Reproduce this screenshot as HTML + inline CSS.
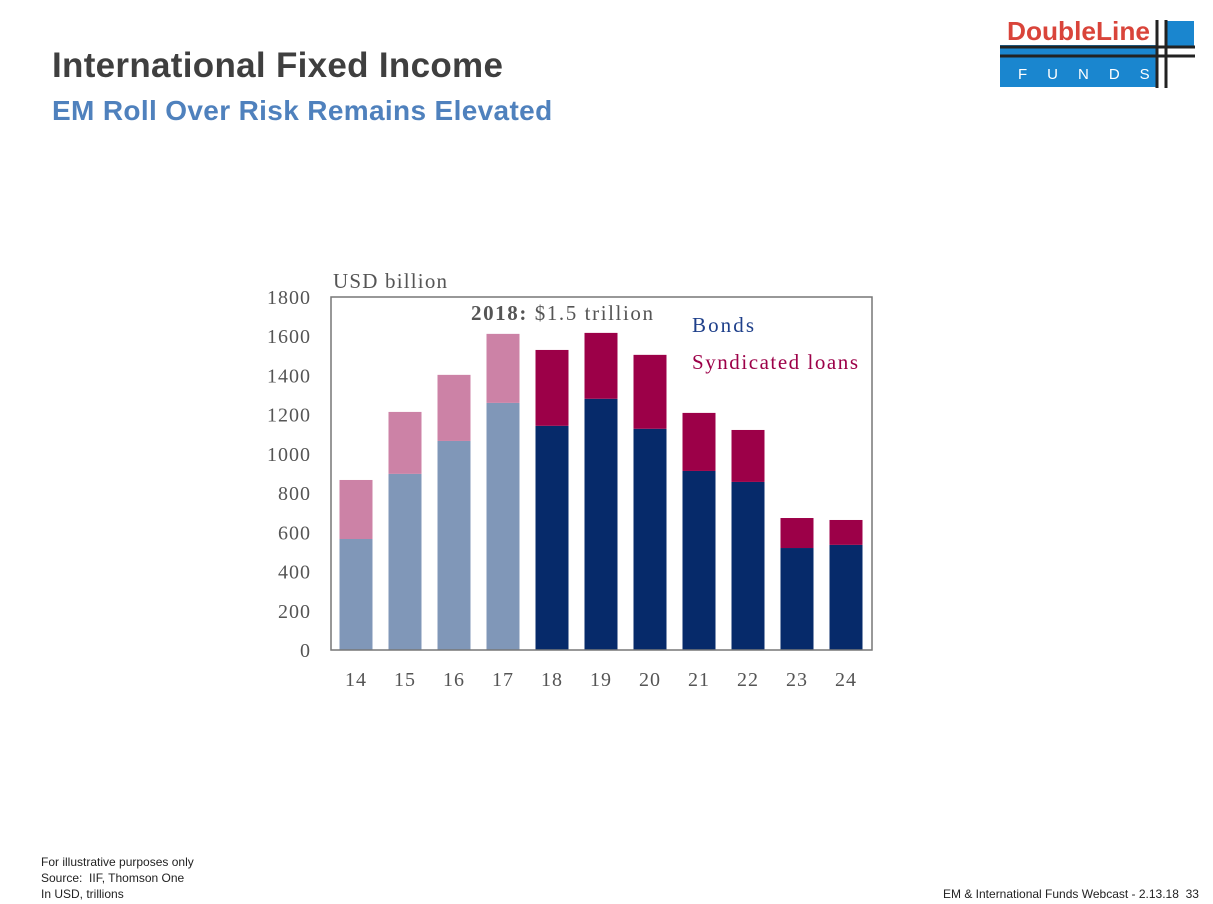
<!DOCTYPE html>
<html><head><meta charset="utf-8"><style>
body{margin:0;width:1213px;height:904px;background:#fff;position:relative;overflow:hidden;font-family:"Liberation Sans",sans-serif}
.t1{position:absolute;left:52px;top:46px;font-size:35px;font-weight:bold;color:#3f3f3f;letter-spacing:0.3px}
.t2{position:absolute;left:52px;top:95px;font-size:28px;font-weight:bold;color:#4f81bd;letter-spacing:0.35px}
.foot{position:absolute;font-size:12px;color:#222;line-height:16px}
</style></head><body>
<div class="t1">International Fixed Income</div>
<div class="t2">EM Roll Over Risk Remains Elevated</div>
<svg style="position:absolute;left:990px;top:10px" width="215" height="85">
<rect x="10" y="35" width="157" height="42" fill="#1a86cf"/>
<rect x="175" y="11" width="29" height="25" fill="#1a86cf"/>
<line x1="10" y1="37" x2="205" y2="37" stroke="#222" stroke-width="3"/>
<line x1="10" y1="46" x2="205" y2="46" stroke="#222" stroke-width="3"/>
<line x1="167" y1="10" x2="167" y2="78" stroke="#222" stroke-width="3"/>
<line x1="176" y1="10" x2="176" y2="78" stroke="#222" stroke-width="3"/>
<text x="17" y="30" font-size="26" font-weight="bold" fill="#d9443a" font-family="Liberation Sans" textLength="143" lengthAdjust="spacingAndGlyphs">DoubleLine</text>
<text x="28" y="69" font-size="15" fill="#fff" font-family="Liberation Sans" letter-spacing="20">FUNDS</text>
</svg>
<svg id="chart" style="position:absolute;left:0;top:0" width="1213" height="904"></svg>
<div class="foot" style="left:41px;top:854px">For illustrative purposes only<br>Source:&nbsp; IIF, Thomson One<br>In USD, trillions</div>
<div class="foot" style="left:943px;top:886px">EM &amp; International Funds Webcast - 2.13.18&nbsp; 33</div>
<script>
const categories=["14","15","16","17","18","19","20","21","22","23","24"];
const bonds=[566,898,1066,1260,1143,1281,1128,913,857,520,536];
const loans=[301,316,337,352,387,336,377,296,265,153,127];
const yTicks=[0,200,400,600,800,1000,1200,1400,1600,1800];
const svg=document.getElementById('chart');
const NS='http://www.w3.org/2000/svg';
const X0=331,X1=872,Y0=650,Y1=297,YMAX=1800;
const y=v=>Y0-(v/YMAX)*(Y0-Y1);
const xc=i=>356+i*49;
function mk(tag,attrs,txt){const e=document.createElementNS(NS,tag);for(const k in attrs)e.setAttribute(k,attrs[k]);if(txt!=null)e.textContent=txt;svg.appendChild(e);return e;}
const serif='Liberation Serif, serif';
yTicks.forEach(v=>{const t=mk('text',{x:311,y:y(v)+7,'text-anchor':'end','font-size':20,fill:'#555','font-family':serif,'letter-spacing':1},v);

});
categories.forEach((c,i)=>{
const hist=i<4;
const b=mk('rect',{x:xc(i)-16.5,y:y(bonds[i]),width:33,height:Y0-y(bonds[i]),fill:hist?'#8097b8':'#062a6a'});


const l=mk('rect',{x:xc(i)-16.5,y:y(bonds[i]+loans[i]),width:33,height:y(bonds[i])-y(bonds[i]+loans[i]),fill:hist?'#cc82a6':'#9c0048'});


const t=mk('text',{x:xc(i),y:686,'text-anchor':'middle','font-size':20,fill:'#555','font-family':serif,'letter-spacing':1},c);


});
const f=mk('rect',{x:X0,y:Y1,width:X1-X0,height:Y0-Y1,fill:'none',stroke:'#777','stroke-width':1.5});


const u=mk('text',{x:333,y:288,'font-size':21,fill:'#555','font-family':serif,textLength:114},'USD billion');


const a=mk('text',{x:471,y:320,'font-size':21,fill:'#555','font-family':serif,textLength:182});
a.innerHTML='<tspan font-weight="bold">2018:</tspan> $1.5 trillion';


const lb=mk('text',{x:692,y:332,'font-size':21,fill:'#1e3f8a','font-family':serif,textLength:62},'Bonds');


const ll=mk('text',{x:692,y:369,'font-size':21,fill:'#9c0048','font-family':serif,textLength:166},'Syndicated loans');


</script>
</body></html>
